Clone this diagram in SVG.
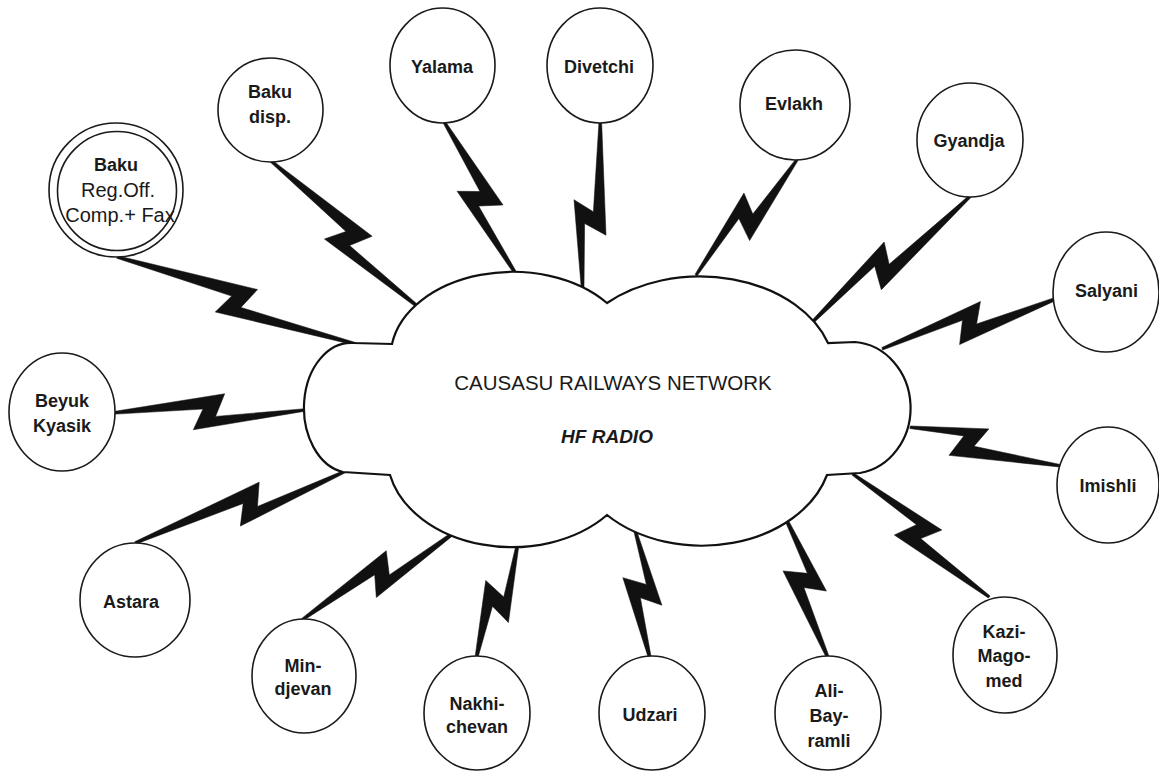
<svg xmlns="http://www.w3.org/2000/svg" width="1159" height="771" viewBox="0 0 1159 771">
  <style>
    .bolt{fill:#111;stroke:#111;stroke-width:0.5;stroke-linejoin:miter}
    .node{fill:#fff;stroke:#1a1a1a;stroke-width:1.6}
    .cloud{fill:#fff;stroke:#111;stroke-width:2.2;stroke-linejoin:miter}
    .lbl{font-family:"Liberation Sans",Arial,sans-serif;font-weight:bold;font-size:18px;fill:#1a1a1a;text-anchor:middle}
    .reg{font-weight:normal;font-size:20px}
    .title{font-family:"Liberation Sans",Arial,sans-serif;font-size:20.5px;fill:#1a1a1a;text-anchor:middle}
    .sub{font-family:"Liberation Sans",Arial,sans-serif;font-size:19px;font-weight:bold;font-style:italic;fill:#1a1a1a;text-anchor:middle}
  </style>
  <rect width="1159" height="771" fill="#fff"/>

  <!-- radio links: each bolt drawn in a local frame (x along the link, from station to cloud) -->
  <g id="connectors">
    <polygon class="bolt" transform="translate(120,258) rotate(20.04)" points="-3,-1.3 140,-17.5 130.5,5 251,-1.3 251,1.3 108,18 118,-2.5 -3,1.3"/>
    <polygon class="bolt" transform="translate(273,163) rotate(44.6)" points="-3,-1.3 122,-17.5 112.5,5 209.5,-1.3 209.5,1.3 90,18 100,-2.5 -3,1.3"/>
    <polygon class="bolt" transform="translate(445,124) rotate(64.51)" points="-3,-1.3 98,-17.5 88.5,5 170.3,-1.3 170.3,1.3 66,18 76,-2.5 -3,1.3"/>
    <polygon class="bolt" transform="translate(600,124) rotate(95.95)" points="-3,-1.3 110,-17.5 100.5,5 167,-1.3 167,1.3 78,18 88,-2.5 -3,1.3"/>
    <polygon class="bolt" transform="translate(795,162) rotate(131.15)" points="-3,-1.3 89,-17.5 79.5,5 150.4,-1.3 150.4,1.3 57,18 67,-2.5 -3,1.3"/>
    <polygon class="bolt" transform="translate(968,198) rotate(141.34)" points="-3,-1.3 125,-17.5 115.5,5 201.5,-1.3 201.5,1.3 93,18 103,-2.5 -3,1.3"/>
    <polygon class="bolt" transform="translate(1057,298) rotate(163.79)" points="-3,-1.3 106.5,-17.5 97,5 182,-1.3 182,1.3 74.5,18 84.5,-2.5 -3,1.3"/>
    <polygon class="bolt" transform="translate(1057,465) rotate(-165.59)" points="-3,-1.3 107,-17.5 97.5,5 151.7,-1.3 151.7,1.3 75,18 85,-2.5 -3,1.3"/>
    <polygon class="bolt" transform="translate(987,595) rotate(-137.97)" points="-3,-1.3 109,-17.5 99.5,5 180.7,-1.3 180.7,1.3 77,18 87,-2.5 -3,1.3"/>
    <polygon class="bolt" transform="translate(828,657) rotate(-107.19)" points="-3,-1.3 95.5,-17.5 86,5 148.5,-1.3 148.5,1.3 63.5,18 73.5,-2.5 -3,1.3"/>
    <polygon class="bolt" transform="translate(650,657) rotate(-96.84)" points="-3,-1.3 82,-17.5 72.5,5 129,-1.3 129,1.3 50,18 60,-2.5 -3,1.3"/>
    <polygon class="bolt" transform="translate(477,657) rotate(-70.35)" points="-3,-1.3 75,-17.5 65.5,5 122,-1.3 122,1.3 43,18 53,-2.5 -3,1.3"/>
    <polygon class="bolt" transform="translate(305,618) rotate(-30.07)" points="-3,-1.3 104,-17.5 94.5,5 178.6,-1.3 178.6,1.3 72,18 82,-2.5 -3,1.3"/>
    <polygon class="bolt" transform="translate(138,542) rotate(-18.85)" points="-3,-1.3 134,-17.5 124.5,5 219.6,-1.3 219.6,1.3 102,18 112,-2.5 -3,1.3"/>
    <polygon class="bolt" transform="translate(115,413) rotate(-0.92)" points="-3,-1.3 110,-17.5 100.5,5 190,-1.3 190,1.3 78,18 88,-2.5 -3,1.3"/>
  </g>

  <!-- central network cloud -->
  <g id="network">
    <path class="cloud" d="M353,343 L392,344 A122 85 0 0 1 607,303 A135 97 0 0 1 828,343 L855,342 A60 66 0 0 1 860,473 L827,475 A130 97 0 0 1 607,515 A125 92 0 0 1 390,475 L343,472 A47 65 0 0 1 353,343 Z"/>
    <text class="title" x="613" y="390">CAUSASU RAILWAYS NETWORK</text>
    <text class="sub" x="607" y="443">HF RADIO</text>
  </g>

  <!-- stations -->
  <g id="baku-reg-off">
    <circle class="node" cx="116" cy="190" r="67"/>
    <circle class="node" cx="117" cy="191" r="59.5"/>
    <text class="lbl" x="116" y="171">Baku</text>
    <text class="lbl reg" x="118" y="197">Reg.Off.</text>
    <text class="lbl reg" x="120" y="222">Comp.+ Fax</text>
  </g>
  <g id="baku-disp">
    <ellipse class="node" cx="270.5" cy="110" rx="52.5" ry="52"/>
    <text class="lbl" x="270" y="98">Baku</text>
    <text class="lbl" x="270" y="123">disp.</text>
  </g>
  <g id="yalama">
    <ellipse class="node" cx="442.5" cy="65.5" rx="52.5" ry="57.5"/>
    <text class="lbl" x="442" y="72.5">Yalama</text>
  </g>
  <g id="divetchi">
    <ellipse class="node" cx="600" cy="65.5" rx="53" ry="57.5"/>
    <text class="lbl" x="599" y="72.5">Divetchi</text>
  </g>
  <g id="evlakh">
    <ellipse class="node" cx="795" cy="105" rx="55" ry="55"/>
    <text class="lbl" x="794" y="110">Evlakh</text>
  </g>
  <g id="gyandja">
    <ellipse class="node" cx="970" cy="140" rx="53" ry="57"/>
    <text class="lbl" x="969" y="146.5">Gyandja</text>
  </g>
  <g id="salyani">
    <ellipse class="node" cx="1106" cy="292" rx="53" ry="60"/>
    <text class="lbl" x="1106.5" y="297">Salyani</text>
  </g>
  <g id="imishli">
    <ellipse class="node" cx="1108" cy="485" rx="51" ry="58"/>
    <text class="lbl" x="1108" y="492">Imishli</text>
  </g>
  <g id="kazi-magomed">
    <ellipse class="node" cx="1005" cy="655" rx="52" ry="58"/>
    <text class="lbl" x="1004" y="638">Kazi-</text>
    <text class="lbl" x="1004" y="662">Mago-</text>
    <text class="lbl" x="1004" y="687">med</text>
  </g>
  <g id="ali-bayramli">
    <ellipse class="node" cx="828" cy="713" rx="53" ry="57"/>
    <text class="lbl" x="829" y="697">Ali-</text>
    <text class="lbl" x="829" y="722">Bay-</text>
    <text class="lbl" x="829" y="747">ramli</text>
  </g>
  <g id="udzari">
    <ellipse class="node" cx="652" cy="713" rx="53" ry="57"/>
    <text class="lbl" x="650" y="721">Udzari</text>
  </g>
  <g id="nakhichevan">
    <ellipse class="node" cx="477" cy="713" rx="53" ry="57"/>
    <text class="lbl" x="477" y="710">Nakhi-</text>
    <text class="lbl" x="477" y="733">chevan</text>
  </g>
  <g id="mindjevan">
    <ellipse class="node" cx="304" cy="676" rx="52" ry="57"/>
    <text class="lbl" x="303" y="672">Min-</text>
    <text class="lbl" x="303" y="695">djevan</text>
  </g>
  <g id="astara">
    <ellipse class="node" cx="135" cy="600" rx="55" ry="57"/>
    <text class="lbl" x="131" y="608">Astara</text>
  </g>
  <g id="beyuk-kyasik">
    <ellipse class="node" cx="62" cy="412" rx="53" ry="59"/>
    <text class="lbl" x="62" y="407">Beyuk</text>
    <text class="lbl" x="62" y="432">Kyasik</text>
  </g>
</svg>
